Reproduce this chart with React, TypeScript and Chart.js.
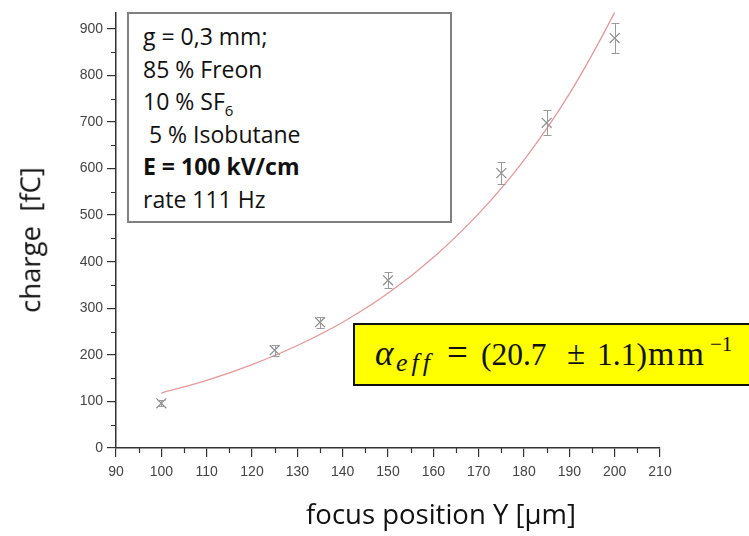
import React, { useEffect, useRef } from 'react';
import { Chart, registerables } from 'chart.js';

Chart.register(...registerables);

// Measured points (focus position Y [µm] -> charge [fC])
const focusPositions = [100, 125, 135, 150, 175, 185, 200];
const chargeValues = [96, 210, 270, 360, 590, 698, 880];
const chargeErrors = [6, 12, 12, 17, 23, 27, 32];

// Fit curve
const fitPositions = [100, 110, 120, 130, 140, 150, 160, 170, 180, 190, 200, 205];
const fitCharges = [118, 145, 179, 220, 270, 332, 409, 503, 618, 760, 935, 1036];

// Ticks
const xTickValues = [90, 100, 110, 120, 130, 140, 150, 160, 170, 180, 190, 200, 210];
const xMinorValues = [95, 105, 115, 125, 135, 145, 155, 165, 175, 185, 195, 205];
const yTickValues = [0, 100, 200, 300, 400, 500, 600, 700, 800, 900];
const yMinorValues = [50, 150, 250, 350, 450, 550, 650, 750, 850];

const infoLines = ['g = 0,3 mm;', '85 % Freon', '10 % SF', ' 5 % Isobutane', 'E = 100 kV/cm', 'rate 111 Hz'];

const AXIS_COLOR = '#333333';
const TICK_FONT = { family: 'Liberation Sans', size: 14 };

const errorBarsPlugin = {
  id: 'errorBars',
  afterDatasetsDraw(chart: any) {
    const ctx = chart.ctx;
    const xs = chart.scales.x;
    const ys = chart.scales.y;
    ctx.save();
    ctx.strokeStyle = '#9a9a9a';
    ctx.lineWidth = 1;
    focusPositions.forEach((xv, i) => {
      const px = Math.round(xs.getPixelForValue(xv)) + 0.5;
      const top = Math.round(ys.getPixelForValue(chargeValues[i] + chargeErrors[i])) + 0.5;
      const bot = Math.round(ys.getPixelForValue(chargeValues[i] - chargeErrors[i])) + 0.5;
      ctx.beginPath();
      ctx.moveTo(px, top);
      ctx.lineTo(px, bot);
      ctx.moveTo(px - 4, top);
      ctx.lineTo(px + 4, top);
      ctx.moveTo(px - 4, bot);
      ctx.lineTo(px + 4, bot);
      ctx.stroke();
    });
    ctx.restore();
  },
};

const minorTicksPlugin = {
  id: 'minorTicks',
  afterDraw(chart: any) {
    const ctx = chart.ctx;
    const xs = chart.scales.x;
    const ys = chart.scales.y;
    const area = chart.chartArea;
    ctx.save();
    ctx.strokeStyle = AXIS_COLOR;
    ctx.lineWidth = 1.2;
    ctx.beginPath();
    xMinorValues.forEach((v) => {
      const px = Math.round(xs.getPixelForValue(v)) + 0.5;
      ctx.moveTo(px, area.bottom);
      ctx.lineTo(px, area.bottom + 5);
    });
    yMinorValues.forEach((v) => {
      const py = Math.round(ys.getPixelForValue(v)) + 0.5;
      ctx.moveTo(area.left - 5, py);
      ctx.lineTo(area.left, py);
    });
    ctx.stroke();
    ctx.restore();
  },
};

// A piece of the formula placed on a given baseline (Liberation Serif: baseline ≈ 0.8375em below line top at line-height 1)
const mathPiece = (left: number, baseline: number, size: number, content: React.ReactNode, extra: React.CSSProperties = {}) => (
  <span
    style={{
      position: 'absolute',
      left,
      top: baseline - 0.8375 * size,
      fontSize: size,
      lineHeight: 1,
      ...extra,
    }}
  >
    {content}
  </span>
);

export default function App() {
  const canvasRef = useRef<HTMLCanvasElement | null>(null);

  useEffect(() => {
    if (!canvasRef.current) return;
    const chart = new Chart(canvasRef.current, {
      type: 'scatter',
      data: {
        datasets: [
          {
            label: 'fit',
            data: fitPositions.map((x, i) => ({ x, y: fitCharges[i] })),
            showLine: true,
            borderColor: '#e29a9a',
            borderWidth: 1.3,
            pointRadius: 0,
            cubicInterpolationMode: 'monotone',
          },
          {
            label: 'charge',
            data: focusPositions.map((x, i) => ({ x, y: chargeValues[i] })),
            showLine: false,
            pointStyle: 'crossRot',
            pointRadius: 7,
            borderColor: '#8c8c8c',
            backgroundColor: '#8c8c8c',
            pointBorderWidth: 1.2,
          },
        ],
      } as any,
      options: {
        responsive: false,
        animation: false,
        events: [],
        layout: { padding: { top: 12, right: 89, left: 0, bottom: 0 } },
        plugins: { legend: { display: false }, tooltip: { enabled: false } },
        scales: {
          x: {
            type: 'linear',
            min: 90,
            max: 210,
            afterBuildTicks: (s: any) => {
              s.ticks = xTickValues.map((value) => ({ value }));
            },
            afterFit: (s: any) => {
              s.height = 88;
            },
            grid: { drawOnChartArea: false, tickLength: 9, color: AXIS_COLOR, lineWidth: 1.2 },
            border: { color: AXIS_COLOR, width: 1.5 },
            ticks: { font: TICK_FONT, color: '#444', padding: 7, maxRotation: 0, autoSkip: false },
          },
          y: {
            type: 'linear',
            min: 0,
            max: 935,
            afterBuildTicks: (s: any) => {
              s.ticks = yTickValues.map((value) => ({ value }));
            },
            afterFit: (s: any) => {
              s.width = 116;
            },
            grid: { drawOnChartArea: false, tickLength: 9, color: AXIS_COLOR, lineWidth: 1.2 },
            border: { color: AXIS_COLOR, width: 1.5 },
            ticks: { font: TICK_FONT, color: '#444', padding: 4, autoSkip: false },
          },
        },
      } as any,
      plugins: [errorBarsPlugin, minorTicksPlugin],
    });
    return () => chart.destroy();
  }, []);

  const BASE = 40; // main baseline inside the yellow box

  return (
    <div
      style={{
        position: 'absolute',
        left: 0,
        top: 0,
        width: 749,
        height: 536,
        overflow: 'hidden',
        background: '#fff',
      }}
    >
      <canvas ref={canvasRef} width={749} height={536} style={{ position: 'absolute', left: 0, top: 0 }} />

      {/* y axis title */}
      <div
        style={{
          position: 'absolute',
          left: 30,
          top: 240,
          transform: 'translate(-50%, -50%) rotate(-90deg)',
          fontFamily: 'Open Sans',
          fontSize: 27.5,
          whiteSpace: 'pre',
          color: '#111',
          lineHeight: 1,
        }}
      >
        {'charge  [fC]'}
      </div>

      {/* x axis title */}
      <div
        style={{
          position: 'absolute',
          left: 441,
          top: 514,
          transform: 'translate(-50%, -50%)',
          fontFamily: 'Open Sans',
          fontSize: 27.5,
          whiteSpace: 'pre',
          color: '#111',
          lineHeight: 1,
        }}
      >
        focus position Y [µm]
      </div>

      {/* info box */}
      <div
        style={{
          position: 'absolute',
          left: 127,
          top: 12,
          width: 325,
          height: 211,
          boxSizing: 'border-box',
          border: '2px solid #808080',
          background: '#fff',
          padding: '6px 0 0 14px',
          fontFamily: 'Open Sans',
          fontSize: 23,
          lineHeight: '32.6px',
          color: '#111',
          whiteSpace: 'pre',
        }}
      >
        <div>{infoLines[0]}</div>
        <div>{infoLines[1]}</div>
        <div>
          {infoLines[2]}
          <sub style={{ fontSize: 15, verticalAlign: '-6px', lineHeight: 0 }}>6</sub>
        </div>
        <div>{infoLines[3]}</div>
        <div style={{ fontWeight: 'bold' }}>{infoLines[4]}</div>
        <div>{infoLines[5]}</div>
      </div>

      {/* fit result box */}
      <div
        style={{
          position: 'absolute',
          left: 353,
          top: 323,
          width: 420,
          height: 63,
          boxSizing: 'border-box',
          border: '2px solid #111',
          background: '#ffff00',
          color: '#111',
          whiteSpace: 'pre',
          fontFamily: 'Liberation Serif',
        }}
      >
        {mathPiece(20, BASE, 35, 'α', { fontStyle: 'italic' })}
        {mathPiece(41, BASE + 7, 26, 'eff', { fontStyle: 'italic', letterSpacing: 4 })}
        {mathPiece(92, BASE, 37, '=')}
        {mathPiece(126, BASE, 31.5, '(20.7')}
        {mathPiece(212, BASE, 33, '±')}
        {mathPiece(242, BASE, 31.5, '1.1)')}
        {mathPiece(293, BASE, 34, 'mm', { letterSpacing: 3 })}
        {mathPiece(355, BASE - 13, 21, '−1')}
      </div>
    </div>
  );
}
